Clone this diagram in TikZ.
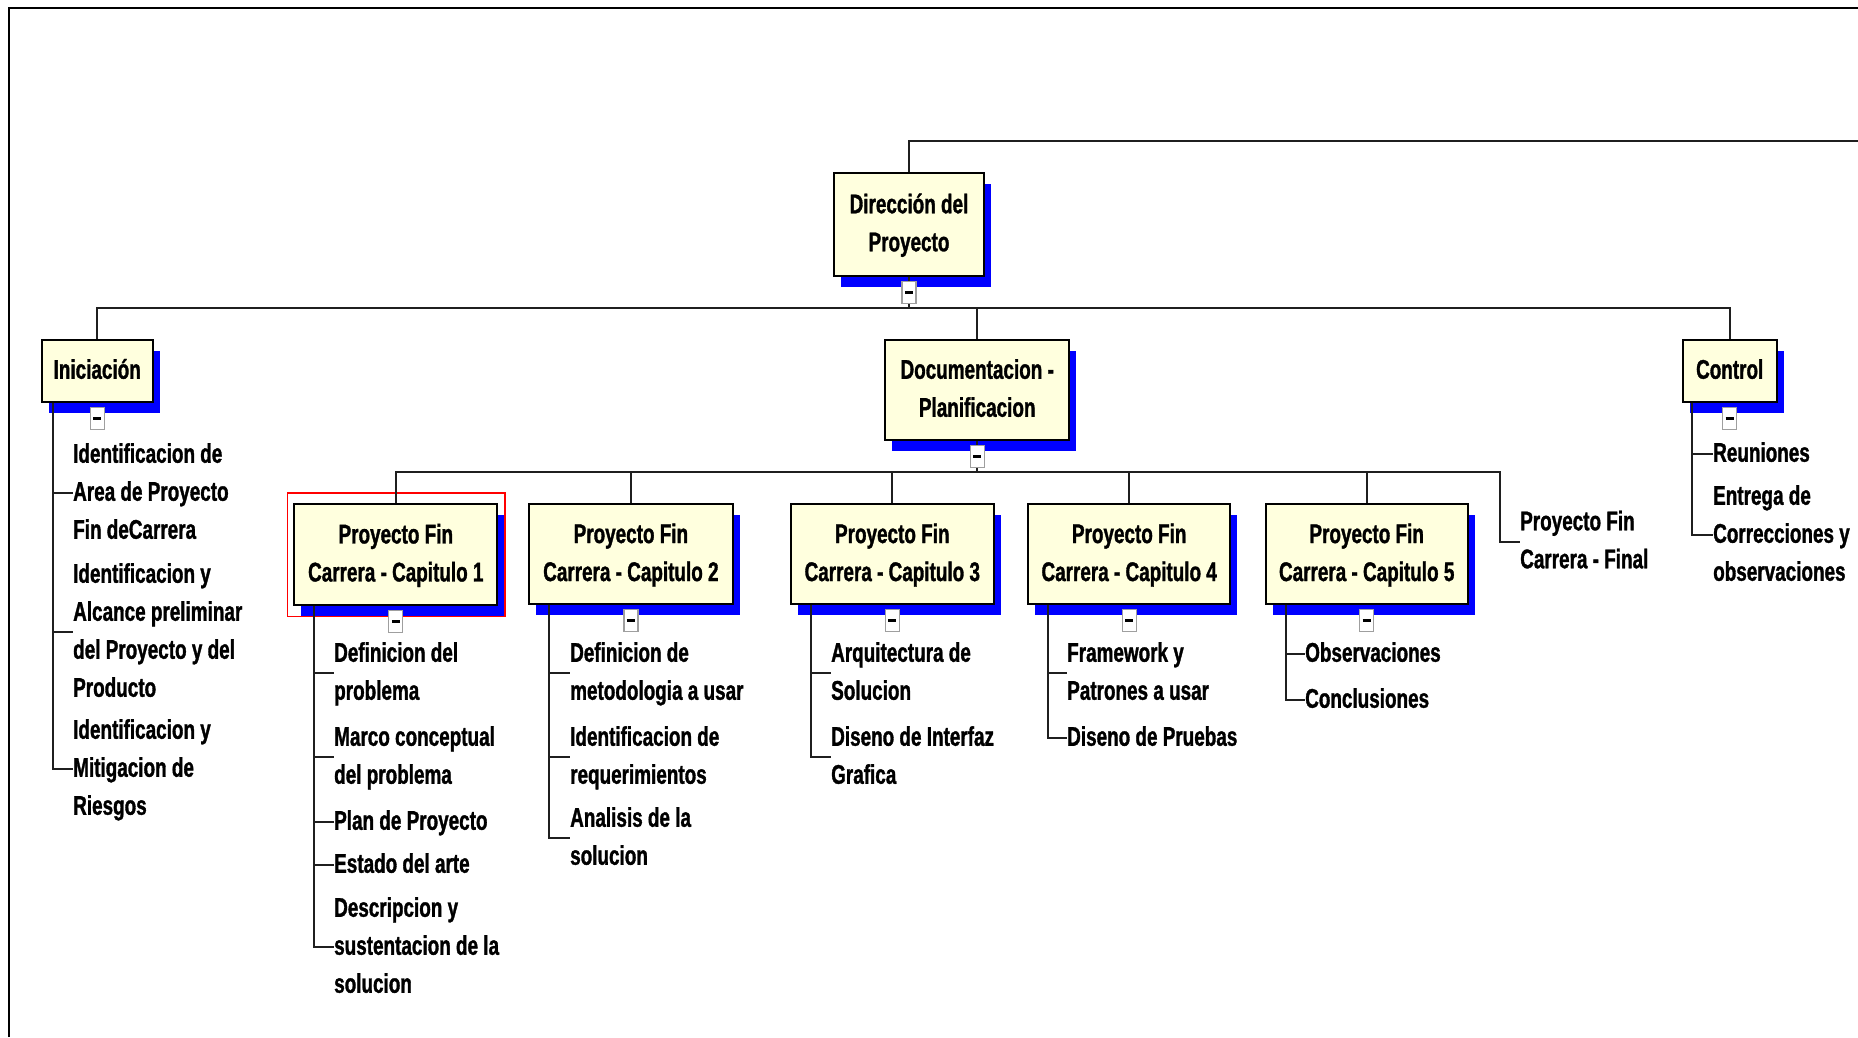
\documentclass[tikz,border=0pt]{standalone}
\usepackage{fontspec}
\newfontfamily\wbs[FakeStretch=0.70,BoldFeatures={FakeBold=1.2}]{Liberation Sans}
\usetikzlibrary{shadows}
\definecolor{boxfill}{RGB}{255,255,222}
\definecolor{shadowblue}{RGB}{0,0,255}
\newcommand\rowstrut{\rule[-11.25pt]{0pt}{38pt}}
\newcommand\wbstext{\wbs\bfseries\fontsize{27}{38}\selectfont}

\begin{document}
\begin{tikzpicture}[x=1pt,y=-1pt,
  wbsbox/.style={draw=black, line width=1.8pt, fill=boxfill, inner sep=0pt,
    align=center, font=\wbstext,
    general shadow={fill=shadowblue, shadow xshift=7pt, shadow yshift=-11pt}},
  leaf/.style={anchor=west, inner sep=0pt, align=left, font=\wbstext},
  link/.style={line width=2pt, draw=black!88},
  toggle/.style={draw=gray!75, fill=white, line width=1.2pt, inner sep=0pt,
    minimum width=14pt, minimum height=22pt,
    path picture={\draw[line width=2.5pt, black]
      ([xshift=-4pt]path picture bounding box.center) --
      ([xshift=4pt]path picture bounding box.center);}}
]
\useasboundingbox (0,0) rectangle (1858,1037);

% outer frame (top and left edges)
\draw[line width=1.7pt] (9,1037) -- (9,8) -- (1858,8);

% ---- boxes ----
\node[wbsbox, minimum width=150pt, minimum height=103pt] (dir) at (909,224.5)
  {\rowstrut Dirección del\\\rowstrut Proyecto};
\node[wbsbox, minimum width=111pt, minimum height=62pt] (ini) at (97.2,371)
  {\rowstrut Iniciación};
\node[wbsbox, minimum width=184pt, minimum height=100pt] (doc) at (977.2,390)
  {\rowstrut Documentacion -\\\rowstrut Planificacion};
\node[wbsbox, minimum width=94pt, minimum height=62pt] (ctl) at (1729.7,371)
  {\rowstrut Control};
\node[wbsbox, minimum width=203pt, minimum height=101pt] (cap1) at (395.8,554.7)
  {\rowstrut Proyecto Fin\\\rowstrut Carrera - Capitulo 1};
\node[wbsbox, minimum width=204pt, minimum height=100pt] (cap2) at (630.9,554.3)
  {\rowstrut Proyecto Fin\\\rowstrut Carrera - Capitulo 2};
\node[wbsbox, minimum width=203pt, minimum height=100pt] (cap3) at (892.3,554.3)
  {\rowstrut Proyecto Fin\\\rowstrut Carrera - Capitulo 3};
\node[wbsbox, minimum width=202pt, minimum height=100pt] (cap4) at (1129.2,554.3)
  {\rowstrut Proyecto Fin\\\rowstrut Carrera - Capitulo 4};
\node[wbsbox, minimum width=202pt, minimum height=100pt] (cap5) at (1366.7,554.3)
  {\rowstrut Proyecto Fin\\\rowstrut Carrera - Capitulo 5};

% selection frame round the first chapter
\draw[red, line width=1.8pt] ([xshift=-6pt,yshift=10.7pt]cap1.north west)
  rectangle ([xshift=6.7pt,yshift=-10.4pt]cap1.south east);

% ---- leaf items ----
\node[leaf] (i1) at (73,493) {\rowstrut Identificacion de\\\rowstrut Area de Proyecto\\\rowstrut Fin deCarrera};
\node[leaf] (i2) at (73,632) {\rowstrut Identificacion y\\\rowstrut Alcance preliminar\\\rowstrut del Proyecto y del\\\rowstrut Producto};
\node[leaf] (i3) at (73,769) {\rowstrut Identificacion y\\\rowstrut Mitigacion de\\\rowstrut Riesgos};

\node[leaf] (a1) at (334,673) {\rowstrut Definicion del\\\rowstrut problema};
\node[leaf] (a2) at (334,757) {\rowstrut Marco conceptual\\\rowstrut del problema};
\node[leaf] (a3) at (334,822) {\rowstrut Plan de Proyecto};
\node[leaf] (a4) at (334,865) {\rowstrut Estado del arte};
\node[leaf] (a5) at (334,947) {\rowstrut Descripcion y\\\rowstrut sustentacion de la\\\rowstrut solucion};

\node[leaf] (b1) at (570,673) {\rowstrut Definicion de\\\rowstrut metodologia a usar};
\node[leaf] (b2) at (570,757) {\rowstrut Identificacion de\\\rowstrut requerimientos};
\node[leaf] (b3) at (570,838) {\rowstrut Analisis de la\\\rowstrut solucion};

\node[leaf] (c1) at (831,673) {\rowstrut Arquitectura de\\\rowstrut Solucion};
\node[leaf] (c2) at (831,757) {\rowstrut Diseno de Interfaz\\\rowstrut Grafica};

\node[leaf] (d1) at (1067,673) {\rowstrut Framework y\\\rowstrut Patrones a usar};
\node[leaf] (d2) at (1067,738) {\rowstrut Diseno de Pruebas};

\node[leaf] (e1) at (1305,654) {\rowstrut Observaciones};
\node[leaf] (e2) at (1305,700) {\rowstrut Conclusiones};

\node[leaf] (k1) at (1713,454) {\rowstrut Reuniones};
\node[leaf] (k2) at (1713,535) {\rowstrut Entrega de\\\rowstrut Correcciones y\\\rowstrut observaciones};

\node[leaf] (fin) at (1520,541.5) {\rowstrut Proyecto Fin\\\rowstrut Carrera - Final};

% ---- tree connectors ----
\coordinate (topR) at (1858,141);
\coordinate (bar1) at (0,308);
\coordinate (finX) at (1500,472);

\draw[link] (dir.north) |- (topR);
\draw[link] (dir.south) -- (dir.south |- bar1);
\draw[link] (ini.north) -- (ini.north |- bar1) -- (ctl.north |- bar1) -- (ctl.north);
\draw[link] (doc.north) -- (doc.north |- bar1);

\draw[link] (doc.south) -- (doc.south |- finX);
\draw[link] (cap1.north) |- (finX) |- (fin.west);
\foreach \c in {cap2,cap3,cap4,cap5}
  \draw[link] (\c.north) -- (\c.north |- finX);

% item rails and ticks
\coordinate (iniL) at ([xshift=12.3pt]ini.south west);
\coordinate (ctlL) at ([xshift=10.6pt]ctl.south west);
\foreach \c in {cap1,cap2,cap3,cap4,cap5}
  \coordinate (\c L) at ([xshift=21pt]\c.south west);

\draw[link] (iniL) |- (i3.west);
\foreach \n in {i1,i2} \draw[link] (\n.west -| iniL) -- (\n.west);
\draw[link] (cap1L) |- (a5.west);
\foreach \n in {a1,a2,a3,a4} \draw[link] (\n.west -| cap1L) -- (\n.west);
\draw[link] (cap2L) |- (b3.west);
\foreach \n in {b1,b2} \draw[link] (\n.west -| cap2L) -- (\n.west);
\draw[link] (cap3L) |- (c2.west);
\draw[link] (c1.west -| cap3L) -- (c1.west);
\draw[link] (cap4L) |- (d2.west);
\draw[link] (d1.west -| cap4L) -- (d1.west);
\draw[link] (cap5L) |- (e2.west);
\draw[link] (e1.west -| cap5L) -- (e1.west);
\draw[link] (ctlL) |- (k2.west);
\draw[link] (k1.west -| ctlL) -- (k1.west);

% collapse toggles under each parent
\foreach \c in {dir,ini,doc,ctl,cap1,cap2,cap3,cap4,cap5}
  \node[toggle] (\c T) at ([yshift=-15.5pt]\c.south) {};
\end{tikzpicture}
\end{document}
